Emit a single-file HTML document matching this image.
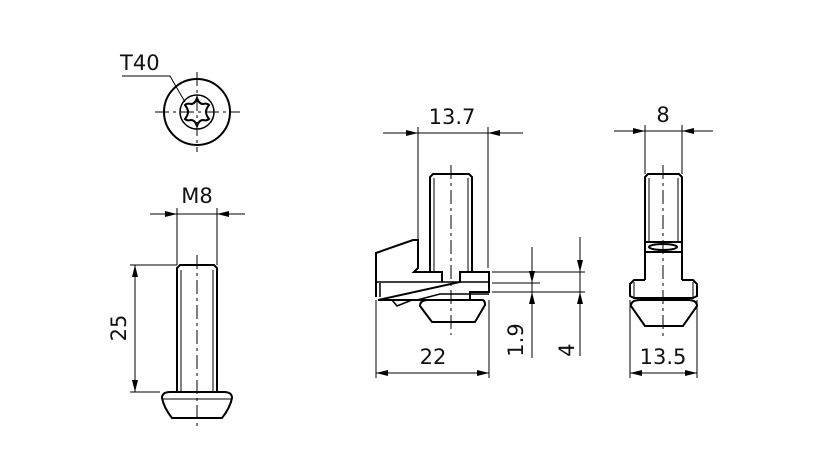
<!DOCTYPE html>
<html><head><style>body{margin:0;background:#fff}svg{display:block}text{font-family:"DejaVu Sans","Liberation Sans",sans-serif;font-size:21px;fill:#111}</style></head>
<body>
<svg width="827" height="472" viewBox="0 0 827 472" xmlns="http://www.w3.org/2000/svg">
<defs>
<marker id="a" viewBox="0 0 12 6" refX="12" refY="3" markerWidth="12" markerHeight="6" markerUnits="userSpaceOnUse" orient="auto"><path d="M0,0L12,3L0,6z" fill="#000"/></marker>
</defs>
<g fill="none" stroke="#000" stroke-width="1">
<circle cx="197" cy="112" r="33" stroke-width="2"/>
<circle cx="197" cy="112" r="17" stroke-width="1.5"/>
<path d="M197,98 Q199,104 203,104 Q207,103 209,105 Q206,109 206,112 Q206,115 209,119 Q207,121 203,120 Q199,120 197,126 Q195,120 191,120 Q187,121 185,119 Q188,115 188,112 Q188,109 185,105 Q187,103 191,104 Q195,104 197,98Z" stroke-width="2"/>
<path d="M155,112H240M197,72V152" stroke-dasharray="14 4 3 4"/>
<path d="M122,76H170L185,102"/>
<path d="M150,214H177" marker-end="url(#a)"/>
<path d="M245,214H217" marker-end="url(#a)"/>
<path d="M177,214H217M177,208V265M217,208V265"/>
<path d="M177,392V268L180,265H214L217,268V392" stroke-width="2"/>
<path d="M181,270V392M213,270V392"/>
<path d="M162,398Q162,392 170,392H224Q232,392 232,398Q230,408 222,418H172Q164,408 162,398Z" stroke-width="2"/>
<path d="M163,399H231"/>
<path d="M197,255V430" stroke-dasharray="14 4 3 4"/>
<path d="M130,265H177M130,392H160"/>
<path d="M135,265V392"/>
<path d="M135,290V265" marker-end="url(#a)"/>
<path d="M135,367V392" marker-end="url(#a)"/>
<path d="M383,133H418" marker-end="url(#a)"/>
<path d="M523,133H488" marker-end="url(#a)"/>
<path d="M418,133H488M418,127V240M488,127V268"/>
<path d="M430,272V177L433,174H469L472,177V272" stroke-width="2"/>
<path d="M434,178V272M468,178V272"/>
<path d="M451,165V335" stroke-dasharray="14 4 3 4"/>
<path d="M376,297V253L413,240H418V268L414,272H442V282M460,282V272H489V292H470V300H378Z" stroke-width="2"/>
<path d="M376,282H489M380,283V297M392,300L397,306L412,300M417,300L440,294H489" stroke-width="1.5"/>
<path d="M420,306Q420,300 428,300H482Q485,300 485,305L475,322H432Z" stroke-width="2"/>
<path d="M492,272H585M492,283H540M492,292H585M376,300V378M489,300V378"/>
<path d="M532,247V358M580,237V356"/>
<path d="M532,258V283" marker-end="url(#a)"/>
<path d="M532,317V292" marker-end="url(#a)"/>
<path d="M580,250V272" marker-end="url(#a)"/>
<path d="M580,317V292" marker-end="url(#a)"/>
<path d="M376,373H489"/>
<path d="M400,373H376" marker-end="url(#a)"/>
<path d="M465,373H489" marker-end="url(#a)"/>
<path d="M614,131H645" marker-end="url(#a)"/>
<path d="M713,131H682" marker-end="url(#a)"/>
<path d="M645,131H682M645,125V174M682,125V174"/>
<path d="M645,242V177L648,174H679L682,177V242" stroke-width="2"/>
<path d="M649,178V242M678,178V242"/>
<path d="M645,242H682V252H645ZM645,252V280M682,252V280" stroke-width="2"/>
<ellipse cx="663" cy="247" rx="14" ry="3" stroke-width="2"/>
<path d="M645,280H634L630,284V296L634,298H693L697,296V284L693,280H682" stroke-width="2"/>
<path d="M634,282V298M693,282V298"/>
<path d="M631,306Q631,300 640,300H688Q697,300 697,306L683,326H645Z" stroke-width="2"/>
<path d="M663,165V338" stroke-dasharray="14 4 3 4"/>
<path d="M630,300V378M697,300V378M630,373H697"/>
<path d="M652,373H630" marker-end="url(#a)"/>
<path d="M675,373H697" marker-end="url(#a)"/>
</g>
<text x="120" y="70">T40</text>
<text x="197" y="203" text-anchor="middle">M8</text>
<text transform="translate(126,328) rotate(-90)" text-anchor="middle">25</text>
<text x="452" y="124" text-anchor="middle">13.7</text>
<text x="433" y="364" text-anchor="middle">22</text>
<text transform="translate(523,340) rotate(-90)" text-anchor="middle">1.9</text>
<text transform="translate(574,350) rotate(-90)" text-anchor="middle">4</text>
<text x="663" y="122" text-anchor="middle">8</text>
<text x="663" y="364" text-anchor="middle">13.5</text>
</svg>
</body></html>
